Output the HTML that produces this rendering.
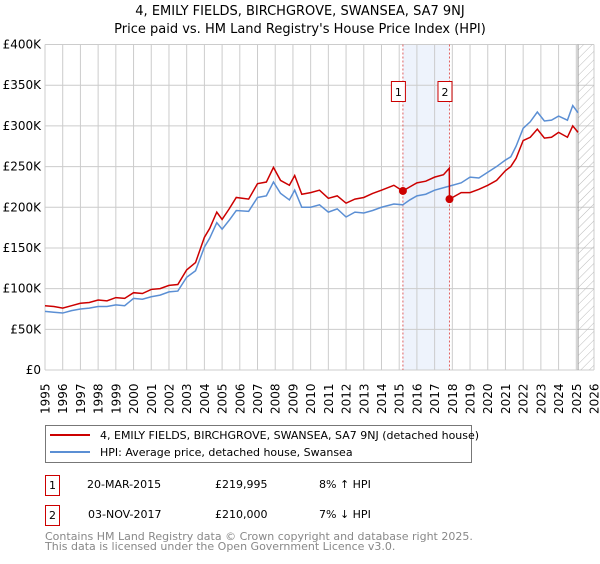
<!DOCTYPE html>
<html><head><meta charset="utf-8"><style>
body{margin:0;background:#fff;font-family:"DejaVu Sans","Liberation Sans",sans-serif;}
svg text{font-family:"DejaVu Sans","Liberation Sans",sans-serif;}
</style></head><body>
<svg id="chart" width="600" height="560" viewBox="0 0 600 560" xmlns="http://www.w3.org/2000/svg">
<defs><pattern id="hatch" width="6" height="6" patternUnits="userSpaceOnUse" patternTransform="rotate(45)"><line x1="0" y1="0" x2="0" y2="6" stroke="#bbb" stroke-width="1"/></pattern></defs>
<text x="300" y="15" text-anchor="middle" font-size="13">4, EMILY FIELDS, BIRCHGROVE, SWANSEA, SA7 9NJ</text>
<text x="300" y="33" text-anchor="middle" font-size="13">Price paid vs. HM Land Registry's House Price Index (HPI)</text>
<g id="grid"></g>
<g id="marks"></g>
<g id="legend">
<rect x="45.5" y="425.5" width="426" height="37" fill="#fff" stroke="#777"/>
<line x1="50" y1="435" x2="90" y2="435" stroke="#cc0000" stroke-width="2"/>
<text x="100" y="439" font-size="11">4, EMILY FIELDS, BIRCHGROVE, SWANSEA, SA7 9NJ (detached house)</text>
<line x1="50" y1="452" x2="90" y2="452" stroke="#5b8fd4" stroke-width="2"/>
<text x="100" y="456" font-size="11">HPI: Average price, detached house, Swansea</text>
</g>
<g font-size="11">
<rect x="45.5" y="475.5" width="14" height="20" fill="#fff" stroke="#cc0000"/>
<text x="52.5" y="489" text-anchor="middle">1</text>
<text x="87" y="488">20-MAR-2015</text><text x="215" y="488">£219,995</text><text x="319" y="488">8% ↑ HPI</text>
</g>
<g font-size="11">
<rect x="45.5" y="505.5" width="14" height="20" fill="#fff" stroke="#cc0000"/>
<text x="52.5" y="519" text-anchor="middle">2</text>
<text x="88" y="518">03-NOV-2017</text><text x="215" y="518">£210,000</text><text x="319" y="518">7% ↓ HPI</text>
</g>
<text x="45" y="540" font-size="11" fill="#888">Contains HM Land Registry data © Crown copyright and database right 2025.</text>
<text x="45" y="550" font-size="11" fill="#888">This data is licensed under the Open Government Licence v3.0.</text>
</svg>
<script>
const dates=[1995.0,1995.5,1996.0,1996.5,1997.0,1997.5,1998.0,1998.5,1999.0,1999.5,2000.0,2000.5,2001.0,2001.5,2002.0,2002.5,2003.0,2003.5,2004.0,2004.3,2004.7,2005.0,2005.4,2005.8,2006.5,2007.0,2007.5,2007.9,2008.3,2008.8,2009.1,2009.5,2010.0,2010.5,2011.0,2011.5,2012.0,2012.5,2013.0,2013.5,2014.0,2014.7,2015.2,2015.6,2016.0,2016.5,2017.0,2017.5,2017.83,2017.84,2018.5,2019.0,2019.5,2020.0,2020.5,2021.0,2021.3,2021.6,2022.0,2022.4,2022.8,2023.2,2023.6,2024.0,2024.5,2024.8,2025.1];
const hpiValues=[72,71,70,73,75,76,78,78,80,79,88,87,90,92,96,97,114,122,151,162,181,173,184,196,195,212,214,231,217,209,221,200,200,203,194,198,188,194,193,196,200,204,203,209,214,216,221,224,226,226,230,237,236,243,250,258,262,275,297,305,317,306,307,312,307,325,316];
const redValues=[79,78,76,79,82,83,86,85,89,88,95,94,99,100,104,105,123,132,163,174,194,185,198,212,210,229,231,249,233,227,239,216,218,221,211,214,205,210,212,217,221,227,220,225,230,232,237,240,248,210,218,218,222,227,233,245,250,260,282,286,296,285,286,292,286,300,292];
const yTicks=[0,50,100,150,200,250,300,350,400];
const yTickLabels=["£0","£50K","£100K","£150K","£200K","£250K","£300K","£350K","£400K"];
const xTicks=[1995,1996,1997,1998,1999,2000,2001,2002,2003,2004,2005,2006,2007,2008,2009,2010,2011,2012,2013,2014,2015,2016,2017,2018,2019,2020,2021,2022,2023,2024,2025,2026];
const saleDates=[2015.21,2017.84];
const salePrices=[219.995,210];
const saleLabels=["1","2"];
const x0=45,x1=594,y0=370,y1=44.5;
const xs=v=>x0+(v-1995)/(2026-1995)*(x1-x0);
const ys=v=>y0-v/400*(y0-y1);
const NS="http://www.w3.org/2000/svg";
function mk(tag,attrs,parent){const e=document.createElementNS(NS,tag);for(const k in attrs)e.setAttribute(k,attrs[k]);parent.appendChild(e);return e;}
const grid=document.getElementById('grid'),marks=document.getElementById('marks');
// shaded sale band
const band=mk('rect',{x:xs(saleDates[0]),y:y1,width:xs(saleDates[1])-xs(saleDates[0]),height:y0-y1,fill:'#eef3fc'},grid);


yTicks.forEach((t,i)=>{
 const l=mk('line',{x1:x0,x2:x1,y1:ys(t),y2:ys(t),stroke:'#ccc','stroke-width':1},grid);
 
 
 const tx=mk('text',{x:x0-4,y:ys(t)+4,'text-anchor':'end','font-size':12},grid);
 tx.textContent=yTickLabels[i];
 
 
});
xTicks.forEach(t=>{
 const l=mk('line',{x1:xs(t),x2:xs(t),y1:y1,y2:y0,stroke:'#ccc','stroke-width':1},grid);
 
 
 const tx=mk('text',{x:0,y:0,'font-size':12,transform:`translate(${xs(t)+4.5},${y0+44}) rotate(-90)`},grid);
 tx.textContent=t;
 
 
});
// hatched future area
const hx=xs(2025.1);
const hatch=mk('rect',{x:hx,y:y1,width:x1-hx,height:y0-y1,fill:'url(#hatch)'},grid);


mk('line',{x1:hx,x2:hx,y1:y1,y2:y0,stroke:'#999','stroke-width':1},grid);
saleDates.forEach((d,i)=>{
 const l=mk('line',{x1:xs(d),x2:xs(d),y1:y1,y2:y0,stroke:'#e06060','stroke-width':1,'stroke-dasharray':'2,2'},grid);
 
 
 const r=mk('rect',{x:xs(d)-10.5+(i?-1:-1),y:81.5,width:14,height:20,fill:'#fff',stroke:'#cc0000'},grid);
 
 
 const t=mk('text',{x:xs(d)-4.5,y:96,'text-anchor':'middle','font-size':11},grid);
 t.textContent=saleLabels[i];
 
 
});
const hp=mk('polyline',{points:dates.map((d,i)=>xs(d)+','+ys(hpiValues[i])).join(' '),fill:'none',stroke:'#5b8fd4','stroke-width':1.5},marks);


const rp=mk('polyline',{points:dates.map((d,i)=>xs(d)+','+ys(redValues[i])).join(' '),fill:'none',stroke:'#cc0000','stroke-width':1.5},marks);


saleDates.forEach((d,i)=>{
 const c=mk('circle',{cx:xs(d),cy:ys(salePrices[i]),r:4,fill:'#cc0000'},marks);
 
 
});
</script>
</body></html>
